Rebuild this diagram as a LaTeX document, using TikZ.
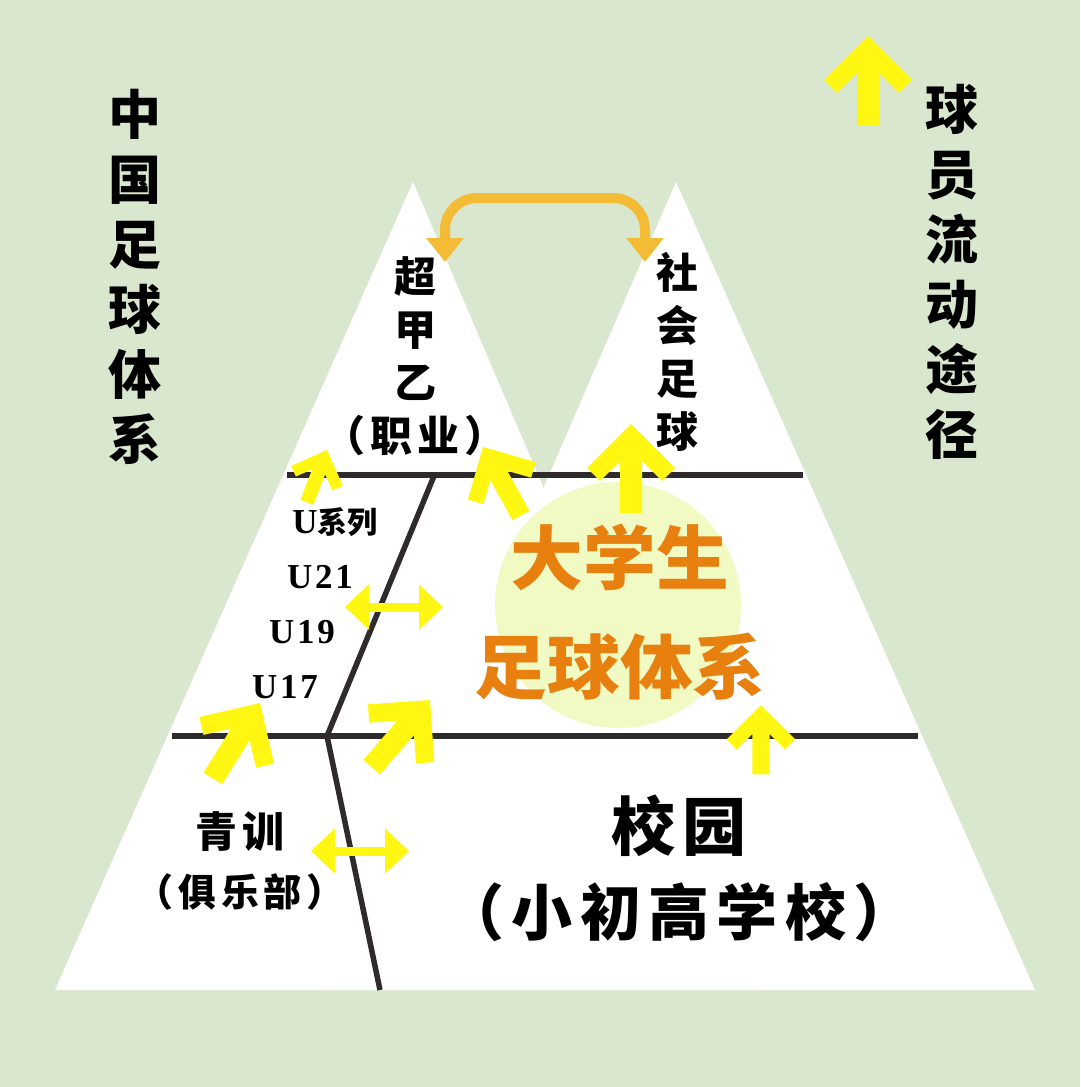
\documentclass[tikz,border=0pt]{standalone}
\usepackage{fontspec}
\usetikzlibrary{arrows.meta}
\newfontfamily\cjk{Noto Sans CJK SC}
\newfontfamily\cjks{Noto Sans CJK SC}[LetterSpace=12]
\newfontfamily\lser{Liberation Serif}[LetterSpace=8]
\definecolor{bgc}{HTML}{DAE7CF}
\definecolor{yel}{HTML}{FFF712}
\definecolor{orgtxt}{HTML}{E8800F}
\definecolor{orgarr}{HTML}{F3BB36}
\definecolor{circc}{HTML}{F2FAC4}
\definecolor{lin}{HTML}{2F2B2C}
\tikzset{
  chev/.pic={\fill[yel] (0,0) -- (44,44) -- (31,57) -- (11,37) -- (11,89) -- (-11,89) -- (-11,37) -- (-31,57) -- (-44,44) -- cycle;},
  divline/.style={draw=lin, line width=5.5pt},
  dblarrow/.style={draw=yel, line width=9pt, {Triangle[width=44pt,length=24pt]}-{Triangle[width=44pt,length=24pt]}},
  colbig/.style={font={\cjk\bfseries\fontsize{53}{65}\selectfont}, align=center, inner sep=0pt},
  colmid/.style={font={\cjk\bfseries\fontsize{42}{53}\selectfont}, align=center, inner sep=0pt},
  ulbl/.style={font={\lser\bfseries\fontsize{35}{40}\selectfont}, inner sep=0pt},
  txt/.style={inner sep=0pt},
}
\begin{document}
\begin{tikzpicture}[x=1pt,y=-1pt]
\useasboundingbox (0,0) rectangle (1080,1087);
\fill[bgc] (0,0) rectangle (1080,1087);
% mountains
\fill[white] (413,182) -- (55,990) -- (758,990) -- cycle;
\fill[white] (676,182) -- (326,990) -- (1035,990) -- cycle;
% circle
\fill[circc] (618,605) circle[radius=123];
% divider lines
\coordinate (t1) at (287,475);
\coordinate (t2) at (803,475);
\coordinate (b1) at (172,736);
\coordinate (b2) at (918,736);
\coordinate (s1) at (434,476);
\coordinate (s2) at (327,736);
\coordinate (s3) at (380,990);
\draw[divline] (t1) -- (t2);
\draw[divline] (b1) -- (b2);
\draw[divline, line join=round] (s1) -- (s2) -- (s3);
% texts
\node[colbig] (leftcol) at (135,277) {中\\国\\足\\球\\体\\系};
\node[colbig] (rightcol) at (952,272) {球\\员\\流\\动\\途\\径};
\node[colmid] (pro) at (415,356) {超\\甲\\乙\\{\cjks （职业）}};
\node[colmid] (soc) at (677,352) {社\\会\\足\\球};
\node[ulbl] (useries) at (335,522) {U{\cjk\bfseries\fontsize{30}{36}\selectfont 系列}};
\node[ulbl] (u21) at (320,577) {U21};
\node[ulbl] (u19) at (302,632) {U19};
\node[ulbl] (u17) at (285,687) {U17};
\node[txt, font={\cjks\bfseries\fontsize{42}{50}\selectfont}] (qx) at (240,832) {青训};
\node[txt, font={\cjks\bfseries\fontsize{38}{46}\selectfont}] (club) at (240,892) {（俱乐部）};
\node[txt, font={\cjks\bfseries\fontsize{64}{72}\selectfont}] (campus) at (679,826) {校园};
\node[txt, font={\cjks\bfseries\fontsize{61}{70}\selectfont}] (school) at (679,912) {（小初高学校）};
\node[txt, text=orgtxt, font={\cjk\bfseries\fontsize{70}{78}\selectfont}, xscale=1.04] (uni1) at (620,557) {大学生};
\node[txt, text=orgtxt, font={\cjk\bfseries\fontsize{70}{78}\selectfont}, xscale=1.04] (uni2) at (620,667) {足球体系};
% orange exchange arrow
\coordinate (oa1) at (445,262);
\coordinate (oa2) at (645,262);
\draw[orgarr, line width=10pt, rounded corners=32pt, {Triangle[width=36pt,length=24pt]}-{Triangle[width=36pt,length=24pt]}] (oa1) -- (445,198) -- (645,198) -- (oa2);
% double arrows
\coordinate (ua1) at (345,607);
\coordinate (ua2) at (443,607);
\coordinate (qa1) at (311,851);
\coordinate (qa2) at (409,851);
\draw[dblarrow] (ua1) -- (ua2);
\draw[dblarrow] (qa1) -- (qa2);
% yellow arrows
\pic at (868,36) {chev};
\pic[rotate=-21, scale=0.63] at (327,450) {chev};
\pic[rotate=29, scale=0.88] at (483,447) {chev};
\pic at (631,424) {chev};
\pic[scale=0.78] at (761,705) {chev};
\pic[rotate=-32] at (260,703) {chev};
\pic[rotate=-41] at (430,700) {chev};
\end{tikzpicture}
\end{document}
